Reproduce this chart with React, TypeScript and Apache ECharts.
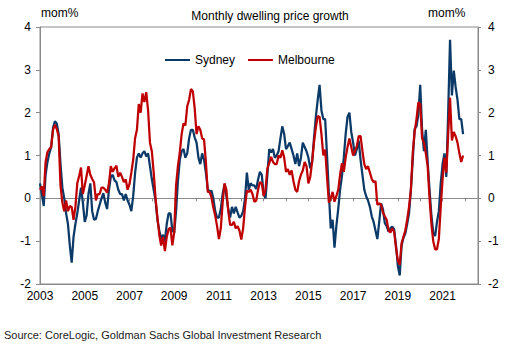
import React, { useEffect, useRef } from "react";
import * as echarts from "echarts";

// ---- Data ----
const START_YEAR = 2003;
const AXIS_MONTHS = 236; // months covered by the x axis (data + empty space at right)
const Y_MIN = -2;
const Y_MAX = 4;
const Y_STEP = 1;

const TITLE = "Monthly dwelling price growth";
const UNIT = "mom%";
const SOURCE = "Source: CoreLogic, Goldman Sachs Global Investment Research";
const SERIES_NAMES = ["Sydney", "Melbourne"];

// Monthly % change, Jan 2003 onwards
const sydney: number[] = [
  0.35, 0.1, -0.18, 0.55, 0.85, 1.05, 1.2, 1.65, 1.8, 1.75, 1.5, 0.8,
  0.25, 0.0, -0.35, -0.6, -1.1, -1.5, -0.9, -0.6, -0.35, -0.05, 0.25, -0.1,
  -0.55, -0.4, 0.1, 0.35, -0.3, -0.5, -0.48, -0.3, -0.15, 0.0, 0.12, -0.1,
  -0.25, 0.2, 0.5, 0.55, 0.42, 0.38, 0.2, 0.1, 0.1, -0.05, 0.1, -0.05,
  -0.15, -0.3, 0.05, 0.58, 0.95, 1.05, 0.95, 1.05, 1.1, 0.98, 1.05, 0.75,
  0.45, 0.2, -0.05, -0.5, -0.75, -0.95, -0.85, -1.0, -0.6, -0.35, -0.35, -0.75,
  -0.8, -0.3, 0.4, 0.9, 1.1, 1.15, 0.95, 1.05, 1.4, 1.6, 1.6, 1.42,
  1.3, 0.95, 0.8, 1.05, 0.9, 0.6, 0.22, 0.15, 0.18, 0.0, -0.3, -0.45,
  -0.45, -0.25, 0.1, 0.33, 0.05, -0.25, -0.45, -0.2, -0.35, -0.2, -0.33, -0.45,
  -0.41, -0.3, 0.0, 0.6, 0.2, 0.35, 0.3, 0.3, 0.22, 0.44, 0.62, 0.55,
  0.1, 0.0, 0.55, 1.15, 1.07, 1.15, 0.95, 1.0, 1.1, 1.4, 1.68, 1.5,
  1.15, 1.22, 1.3, 1.15, 1.0, 0.8, 1.05, 0.75, 0.95, 1.3, 1.2, 1.1,
  0.95, 0.7, 0.85, 1.4, 1.9, 2.3, 2.65, 2.05, 1.85, 1.85, 1.0, 0.1,
  -0.7, -0.5, -1.15, -0.65, -0.25, 0.2, 0.52, 0.95, 1.5, 1.9, 2.0, 1.55,
  1.3, 1.0, 1.15, 1.35, 0.9, 0.55, 0.2, 0.05, -0.05, -0.2, -0.42, -0.55,
  -0.75, -0.95, -0.55, -0.12, -0.25, -0.58, -0.65, -0.78, -0.7, -0.66, -0.72, -1.1,
  -1.58, -1.8, -1.1, -0.92, -0.82, -0.6, -0.35, 0.2, 0.9, 1.62, 1.68, 1.95,
  2.65, 1.6, 1.1, 1.6, 0.85, 0.2, -0.4, -0.8, -0.88, -0.55, -0.3, 0.35,
  0.8, 1.05, 0.5, 2.0, 3.7, 2.4, 2.98, 2.6, 2.3, 1.85, 1.85, 1.5,
];

const melbourne: number[] = [
  0.2, 0.28, 0.05, 0.85, 1.08, 1.15, 1.2, 1.6, 1.72, 1.62, 1.45, 0.3,
  -0.1, -0.3, -0.05, -0.3, -0.18, -0.2, -0.5, -0.2, 0.35, 0.52, 0.72, 0.1,
  0.3, 0.52, 0.75, 0.55, 0.45, 0.37, -0.05, 0.1, 0.1, 0.25, 0.25, 0.2,
  0.13, 0.35, 0.75, 0.62, 0.7, 0.76, 0.5, 0.6, 0.5, 0.38, 0.44, 0.2,
  0.33, 0.6, 0.9, 1.4, 1.6, 2.2, 2.0, 2.45, 2.25, 2.48, 2.05, 1.3,
  1.1, 0.6, 0.0, -0.45, -0.85, -1.1, -0.9, -1.23, -0.9, -0.72, -0.68, -1.1,
  -0.8, 0.3, 0.75, 1.07, 1.5, 1.75, 1.7, 2.15, 2.3, 2.55, 2.5, 2.1,
  1.5, 1.68, 1.6, 1.4, 1.38, 0.85, 0.15, 0.15, 0.02, -0.22, -0.4, -0.65,
  -0.95, -0.7, -0.1, 0.35, 0.2, -0.3, -0.62, -0.62, -0.55, -0.7, -0.65, -0.75,
  -0.96, -0.7, -0.2, 0.18, 0.15, 0.2, 0.1, -0.08, -0.05, 0.2, 0.38, 0.35,
  0.05, 0.2, 0.7, 0.82, 0.97, 0.85, 0.8, 0.8, 1.0, 0.95, 1.12, 0.95,
  0.62, 0.68, 0.55, 0.65, 0.4, 0.2, 0.15, 0.4, 0.55, 0.65, 0.85, 0.75,
  0.35, 0.5, 0.85, 1.3, 1.65, 1.92, 1.9, 1.5, 1.0, 1.14, 0.5, -0.1,
  0.0, 0.15, -0.08, 0.05, 0.2, 0.55, 0.82, 0.62, 0.95, 1.2, 1.4, 1.2,
  1.0, 1.1, 1.22, 1.45, 1.45, 1.1, 0.8, 0.68, 0.75, 0.6, 0.45, 0.38,
  0.4, -0.15, -0.12, -0.15, -0.33, -0.42, -0.5, -0.75, -0.8, -0.7, -0.78, -1.15,
  -1.45, -1.55, -1.05, -0.9, -0.75, -0.5, -0.2, 0.2, 1.07, 1.55, 1.85, 2.24,
  2.2, 1.4, 1.3, 1.05, 0.75, 0.0, -0.6, -1.0, -1.19, -1.19, -0.95, -0.2,
  0.45, 0.95, 0.6, 1.5, 2.35, 1.35, 1.55, 1.45, 1.3, 1.05, 0.85, 1.0,
];

const months: string[] = [];
for (let i = 0; i < AXIS_MONTHS; i++) {
  const y = START_YEAR + Math.floor(i / 12);
  const m = (i % 12) + 1;
  months.push(`${y}-${m < 10 ? "0" + m : m}`);
}

const FONT = "'Liberation Sans', Arial, sans-serif";
const AXIS_GRAY = "#8a8a8a";
const NAVY = "#0b3a68";
const RED = "#c00000";

const isJan = (v: string) => v.endsWith("-01");
const isOddYearJan = (v: string) => isJan(v) && Number(v.slice(0, 4)) % 2 === 1;

export default function App() {
  const ref = useRef<HTMLDivElement>(null);

  useEffect(() => {
    if (!ref.current) return;
    const chart = echarts.init(ref.current, undefined, { renderer: "svg" });

    const yAxisBase = {
      type: "value" as const,
      min: Y_MIN,
      max: Y_MAX,
      interval: Y_STEP,
      splitLine: { show: false },
      axisLine: { show: true, onZero: false, lineStyle: { color: AXIS_GRAY, width: 1 } },
    };

    chart.setOption({
      animation: false,
      backgroundColor: "#ffffff",
      textStyle: { fontFamily: FONT },
      grid: {
        left: 40,
        right: 49,
        top: 27,
        bottom: 76,
        show: true,
        borderColor: AXIS_GRAY,
        borderWidth: 1,
        backgroundColor: "transparent",
      },
      legend: {
        data: SERIES_NAMES,
        left: 165,
        top: 54,
        icon: "rect",
        itemWidth: 25,
        itemHeight: 2,
        itemGap: 13,
        padding: 0,
        textStyle: { fontSize: 12, color: "#000", fontFamily: FONT },
      },
      xAxis: [
        {
          type: "category",
          data: months,
          boundaryGap: false,
          position: "bottom",
          axisLine: { show: true, onZero: false, lineStyle: { color: AXIS_GRAY } },
          axisTick: { show: false },
          axisLabel: {
            interval: (_i: number, v: string) => isOddYearJan(v),
            formatter: (v: string) => v.slice(0, 4),
            fontSize: 12,
            color: "#000",
            margin: 6,
            fontFamily: FONT,
          },
          splitLine: { show: false },
        },
        {
          type: "category",
          data: months,
          boundaryGap: false,
          position: "top",
          axisLine: { show: true, onZero: true, lineStyle: { color: AXIS_GRAY } },
          axisTick: {
            show: true,
            inside: true,
            length: 3,
            interval: (_i: number, v: string) => isJan(v),
            lineStyle: { color: AXIS_GRAY },
          },
          axisLabel: { show: false },
          splitLine: { show: false },
        },
      ],
      yAxis: [
        {
          ...yAxisBase,
          position: "left",
          axisTick: { show: true, length: 4, lineStyle: { color: AXIS_GRAY } },
          axisLabel: { fontSize: 12, color: "#000", margin: 9, fontFamily: FONT },
        },
        {
          ...yAxisBase,
          position: "right",
          axisTick: { show: true, length: 3, lineStyle: { color: AXIS_GRAY } },
          axisLabel: { fontSize: 12, color: "#000", margin: 10, fontFamily: FONT },
        },
      ],
      series: [
        {
          name: SERIES_NAMES[0],
          type: "line",
          xAxisIndex: 0,
          yAxisIndex: 0,
          data: sydney,
          symbol: "none",
          lineStyle: { color: NAVY, width: 2.25 },
          itemStyle: { color: NAVY },
        },
        {
          name: SERIES_NAMES[1],
          type: "line",
          xAxisIndex: 0,
          yAxisIndex: 0,
          data: melbourne,
          symbol: "none",
          lineStyle: { color: RED, width: 2.25 },
          itemStyle: { color: RED },
        },
      ],
      graphic: [
        {
          type: "text",
          left: 41,
          top: 7,
          style: { text: UNIT, fontSize: 12, fill: "#000", fontFamily: FONT },
        },
        {
          type: "text",
          left: 428,
          top: 7,
          style: { text: UNIT, fontSize: 12, fill: "#000", fontFamily: FONT },
        },
        {
          type: "text",
          x: 270,
          y: 16,
          style: {
            text: TITLE,
            fontSize: 12,
            fill: "#000",
            fontFamily: FONT,
            align: "center",
            verticalAlign: "middle",
          },
        },
        {
          type: "text",
          left: 4,
          top: 329,
          style: { text: SOURCE, fontSize: 11, fill: "#1a1a1a", fontFamily: FONT },
        },
      ],
    });

    return () => chart.dispose();
  }, []);

  return (
    <div
      ref={ref}
      style={{ position: "fixed", left: 0, top: 0, width: 527, height: 360, background: "#fff" }}
    />
  );
}
